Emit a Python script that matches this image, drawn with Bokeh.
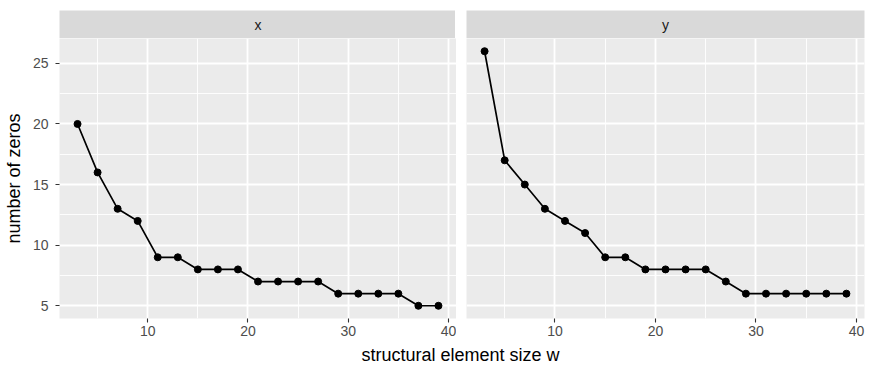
from bokeh.plotting import figure
from bokeh.layouts import column, row
from bokeh.models import FixedTicker, Range1d, Label
from bokeh.embed import file_html
from bokeh.resources import INLINE

# ---- data ----
w = [3, 5, 7, 9, 11, 13, 15, 17, 19, 21, 23, 25, 27, 29, 31, 33, 35, 37, 39]
zeros_x = [20, 16, 13, 12, 9, 9, 8, 8, 8, 7, 7, 7, 7, 6, 6, 6, 6, 5, 5]
zeros_y = [26, 17, 15, 13, 12, 11, 9, 9, 8, 8, 8, 8, 7, 6, 6, 6, 6, 6, 6]
facets = ["x", "y"]
x_ticks = [10, 20, 30, 40]
x_minor = [5, 15, 25, 35]
y_ticks = [5, 10, 15, 20, 25]
y_minor = [7.5, 12.5, 17.5, 22.5]
x_title = "structural element size w"
y_title = "number of zeros"

FONT = "Liberation Sans"
PANEL_BG = "#EBEBEB"
STRIP_BG = "#D9D9D9"

xmin, xmax = min(w), max(w)
allv = zeros_x + zeros_y
ymin, ymax = min(allv), max(allv)
xr = (xmin - 0.05 * (xmax - xmin), xmax + 0.05 * (xmax - xmin))
yr = (ymin - 0.05 * (ymax - ymin), ymax + 0.05 * (ymax - ymin))


def strip(label, fw, ml, mr):
    s = figure(frame_width=fw, frame_height=28, x_range=Range1d(0, 1), y_range=Range1d(0, 1),
               min_border_left=ml, min_border_right=mr, min_border_top=10, min_border_bottom=0,
               x_axis_location=None, y_axis_location=None,
               toolbar_location=None, output_backend="svg")
    s.grid.visible = False
    s.background_fill_color = STRIP_BG
    s.border_fill_color = "white"
    s.outline_line_color = None
    s.add_layout(Label(x=0.5, y=0.5, text=label, text_align="center", text_baseline="middle",
                       text_font=FONT, text_font_size="14px", text_color="#1A1A1A"))
    return s


def panel(vals, fw, ml, mr, show_y):
    p = figure(frame_width=fw, frame_height=280,
               x_range=Range1d(*xr), y_range=Range1d(*yr),
               min_border_left=ml, min_border_right=mr, min_border_top=0, min_border_bottom=24,
               x_axis_location="below", y_axis_location="left" if show_y else None,
               toolbar_location=None, output_backend="svg")
    p.background_fill_color = PANEL_BG
    p.border_fill_color = "white"
    p.outline_line_color = None
    xt = FixedTicker(ticks=x_ticks, minor_ticks=x_minor)
    yt = FixedTicker(ticks=y_ticks, minor_ticks=y_minor)
    p.xaxis.ticker = xt
    p.xgrid.ticker = xt
    p.ygrid.ticker = yt
    p.grid.grid_line_color = "white"
    p.grid.grid_line_width = 1.8
    p.grid.minor_grid_line_color = "white"
    p.grid.minor_grid_line_width = 0.9
    axes = [p.xaxis[0]]
    if show_y:
        p.yaxis.ticker = yt
        p.yaxis.axis_label = y_title
        p.yaxis.axis_label_text_font = FONT
        p.yaxis.axis_label_text_font_size = "18px"
        p.yaxis.axis_label_text_font_style = "normal"
        p.yaxis.axis_label_text_color = "black"
        p.yaxis.axis_label_standoff = 6
        p.yaxis.major_label_standoff = 7
        axes.append(p.yaxis[0])
    p.xaxis.major_label_standoff = 3
    for ax in axes:
        ax.axis_line_color = None
        ax.major_tick_line_color = "#333333"
        ax.major_tick_line_width = 1.1
        ax.major_tick_out = 4
        ax.major_tick_in = 0
        ax.minor_tick_line_color = None
        ax.major_label_text_font = FONT
        ax.major_label_text_font_size = "14px"
        ax.major_label_text_color = "#4D4D4D"
    p.line(w, vals, line_color="black", line_width=1.7)
    p.scatter(w, vals, size=7, fill_color="black", line_color="black")
    return p


s1 = strip(facets[0], 397, 58, 0)
s2 = strip(facets[1], 398, 10, 9)
p1 = panel(zeros_x, 397, 58, 0, True)
p2 = panel(zeros_y, 398, 10, 9, False)

xl = figure(frame_width=872, frame_height=32, x_range=Range1d(0, 872), y_range=Range1d(0, 32),
            min_border_left=0, min_border_right=0, min_border_top=0, min_border_bottom=0,
            x_axis_location=None, y_axis_location=None,
            toolbar_location=None, output_backend="svg")
xl.grid.visible = False
xl.outline_line_color = None
xl.background_fill_color = "white"
xl.add_layout(Label(x=460, y=20, text=x_title, text_align="center", text_baseline="middle",
                    text_font=FONT, text_font_size="18px", text_color="black"))

layout = column(row(column(s1, p1), column(s2, p2)), xl)

open("out.html", "w").write(file_html(layout, INLINE))
